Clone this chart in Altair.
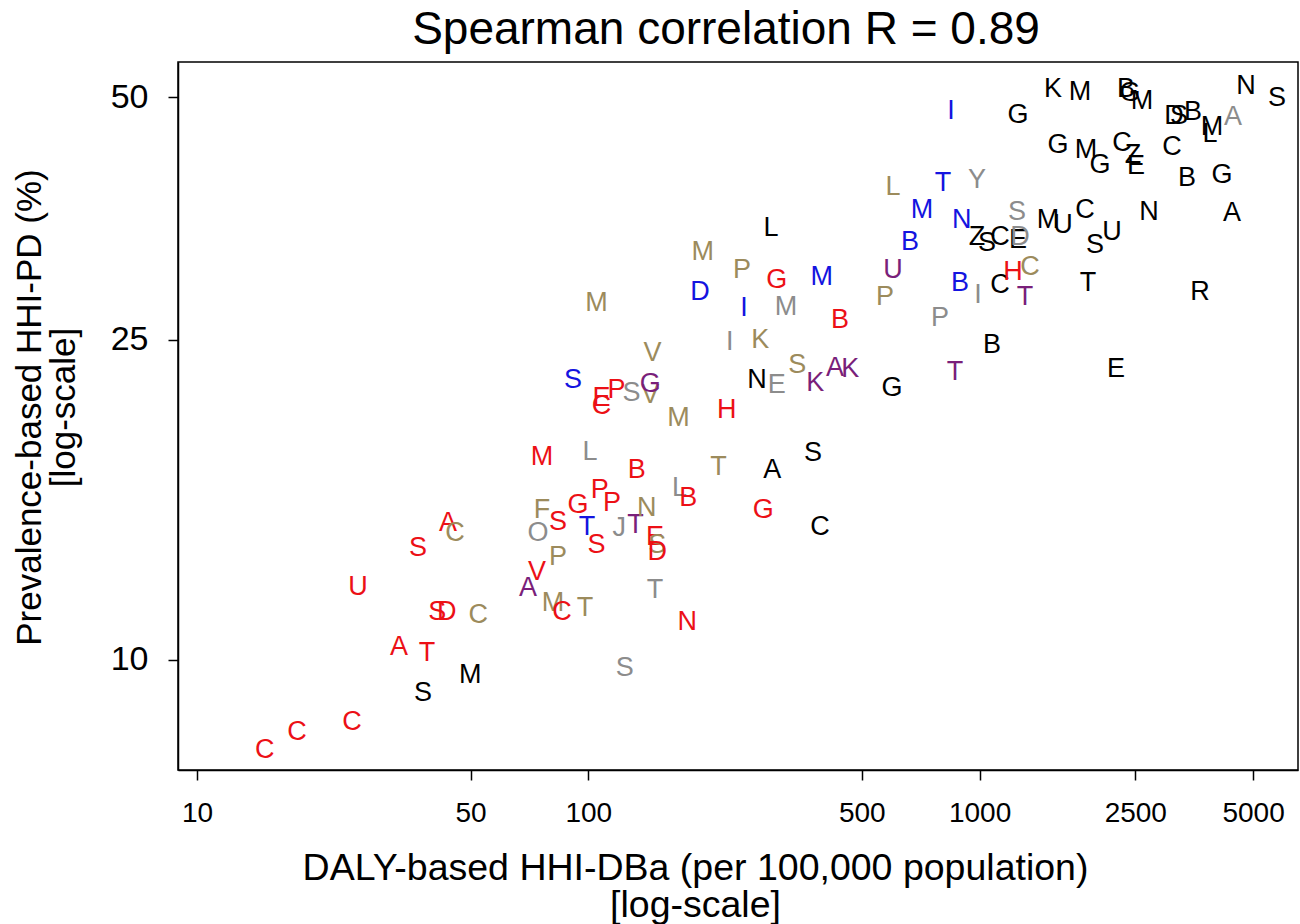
import altair as alt
import pandas as pd

# Letter labels (one per country/point)
LETTERS = list(
    "CCCSMATUSD" "CSACAVMCTP" "OFSGTSPPJT" "NESDTNSMLB" "LBTASGCSEC"
    "PSVGMHVMMD" "PIIKNESKAK" "GLGMMBLUPM" "TNBBPITBYI" "ZSCEDSCHCT"
    "MUCSUTNARE" "BGCGKMBGMD" "SBMLANSGMG" "CZE"
)
# Group codes (colour groups)
GROUPS = list(
    "rrrkkrrrrr" "orroproroo" "gorrbrrrgp" "ororgrgrgr" "grokkrkbrr"
    "rgoporooob" "obgokgoppp" "kkrgbropob" "bbbbggpkgb" "kkkkggkrop"
    "kkkkkkkkkk" "kkkkkkkkkk" "kkkkgkkkkk" "kkk"
)
# DALY-based HHI-DBa (per 100,000)
DALY = [14.9, 18.0, 24.9, 37.8, 49.9, 32.8, 38.7, 25.8, 41.1, 43.5,
        52.3, 36.7, 43.8, 45.6, 70.1, 73.9, 81.2, 85.7, 98.1, 83.7,
        74.4, 76.1, 83.7, 94.1, 99.2, 105, 107, 115, 120, 132,
        141, 148, 150, 150, 148, 179, 124, 76.1, 101, 133,
        171, 180, 215, 295, 375, 280, 391, 91.4, 108, 108,
        118, 129, 144, 144, 170, 226, 146, 105, 196, 193,
        247, 250, 230, 275, 270, 303, 342, 380, 427, 467,
        597, 293, 303, 320, 395, 440, 601, 601, 573, 713,
        806, 901, 664, 891, 792, 991, 865, 1076, 985, 845,
        985, 1044, 1127, 1253, 1268, 1246, 1127, 1217, 1345, 1306,
        1496, 1633, 1859, 1972, 2179, 1892, 2710, 4416, 3659, 2232,
        3388, 4164, 3101, 1253, 1540, 1805, 2367, 2423, 2600, 3138,
        3232, 3511, 3926, 3880, 4442, 4796, 5754, 1586, 1870, 2030,
        2312, 2466, 2510]
# Prevalence-based HHI-PD (%)
PREV = [7.73, 8.14, 8.38, 9.10, 9.58, 10.38, 10.20, 12.32, 11.47, 11.47,
        11.37, 13.77, 14.79, 14.38, 12.28, 12.86, 11.77, 11.47, 11.60, 13.42,
        14.38, 15.36, 14.83, 15.57, 14.63, 13.89, 16.26, 15.66, 14.58, 14.71,
        15.44, 14.21, 13.89, 13.62, 12.22, 11.15, 9.77, 17.87, 18.13, 17.21,
        16.35, 15.89, 17.36, 17.21, 18.07, 15.36, 14.63, 22.27, 21.15, 20.67,
        21.64, 21.46, 21.33, 22.01, 19.97, 20.43, 24.05, 27.75, 32.10, 28.63,
        30.49, 27.35, 24.82, 24.96, 22.27, 21.95, 23.24, 22.08, 23.04, 22.98,
        21.77, 34.38, 29.63, 27.43, 29.89, 26.43, 38.66, 30.49, 28.22, 36.20,
        39.10, 35.18, 33.03, 29.38, 26.58, 28.38, 22.78, 24.61, 39.44, 48.04,
        33.51, 32.94, 33.51, 33.22, 33.51, 35.99, 29.21, 30.31, 30.75, 28.22,
        35.18, 34.68, 36.20, 32.75, 34.00, 29.38, 35.99, 35.89, 28.63, 22.98,
        39.67, 40.01, 43.35, 47.50, 51.16, 50.72, 51.16, 50.58, 49.43, 47.36,
        47.36, 47.90, 45.88, 44.98, 47.23, 51.60, 49.86, 43.60, 42.98, 41.17,
        43.85, 42.36, 41.06]

assert len(LETTERS) == len(GROUPS) == len(DALY) == len(PREV)

X_TICKS = [10, 50, 100, 500, 1000, 2500, 5000]
Y_TICKS = [10, 25, 50]

GROUP_CODES = ["k", "r", "b", "g", "o", "p"]
GROUP_COLORS = ["#000000", "#ec1016", "#1414e0", "#8c8c8c", "#9c8b5c", "#7a1f7a"]

df = pd.DataFrame({"label": LETTERS, "group": GROUPS, "daly": DALY, "prev": PREV})

FONT = "Liberation Sans"

chart = alt.Chart(df).mark_text(font=FONT, fontSize=27).encode(
    x=alt.X("daly:Q",
            scale=alt.Scale(type="log", domain=[8.94, 6513], nice=False),
            axis=alt.Axis(values=X_TICKS, format="d", grid=False,
                          labelFontSize=28, labelPadding=19,
                          title=["DALY-based HHI-DBa (per 100,000 population)", "[log-scale]"],
                          titleFontSize=37.5,
                          titleX=517, titleY=109, titleBaseline="alphabetic",
                          titleAlign="center", titleLineHeight=37)),
    y=alt.Y("prev:Q",
            scale=alt.Scale(type="log", domain=[7.3, 55.3], nice=False),
            axis=alt.Axis(values=Y_TICKS, format="d", grid=False,
                          labelFontSize=34, labelPadding=20,
                          title=["Prevalence-based HHI-PD (%)", "[log-scale]"],
                          titleFontSize=35,
                          titleX=-138, titleY=345, titleAngle=-90,
                          titleBaseline="alphabetic", titleAlign="center",
                          titleLineHeight=34)),
    text="label:N",
    color=alt.Color("group:N",
                    scale=alt.Scale(domain=GROUP_CODES, range=GROUP_COLORS),
                    legend=None),
).properties(
    width=1120,
    height=708,
    background="white",
    title=alt.TitleParams("Spearman correlation R = 0.89", font=FONT, fontSize=46,
                          fontWeight="normal", color="black", anchor="middle",
                          frame="group", baseline="alphabetic", offset=-28, dx=-12),
    autosize=alt.AutoSizeParams(type="none"),
    padding={"left": 178, "top": 62, "right": 2, "bottom": 154},
).configure_view(
    stroke="black", strokeWidth=1.5
).configure_axis(
    labelFont=FONT, labelColor="black",
    titleFont=FONT, titleColor="black", titleFontWeight="normal",
    tickSize=10, tickWidth=1.5, tickColor="black",
    domainColor="black", domainWidth=1.5,
)

chart.save("out.html", embed_options={"renderer": "svg", "actions": False})
